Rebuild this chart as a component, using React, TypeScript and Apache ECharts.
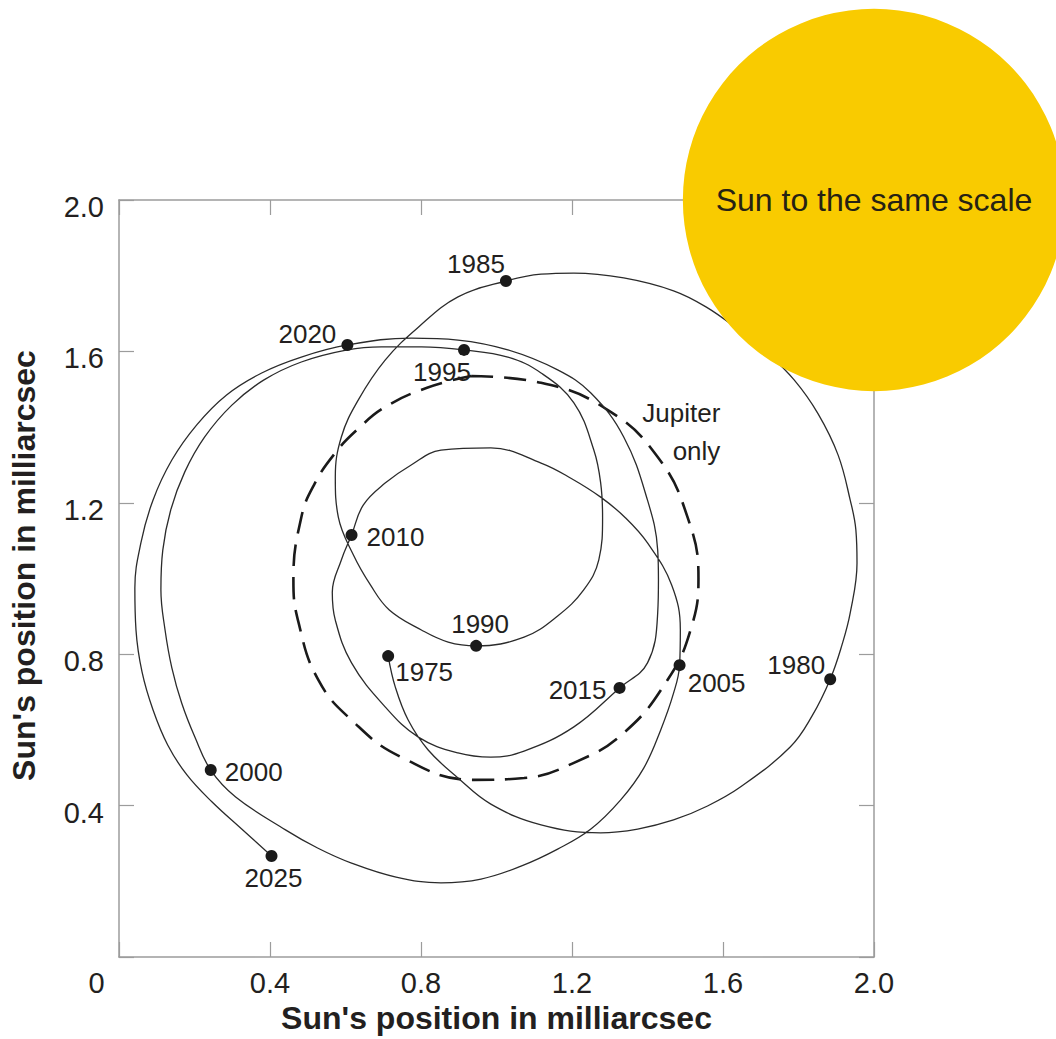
import React, { useEffect, useRef } from 'react';
import * as echarts from 'echarts';

// ---- data (milliarcsec) ----
const years = ['1975', '1980', '1985', '1990', '1995', '2000', '2005', '2010', '2015', '2020', '2025'];
const yearX = [0.713, 1.884, 1.025, 0.946, 0.914, 0.243, 1.485, 0.616, 1.326, 0.605, 0.404];
const yearY = [0.795, 0.734, 1.786, 0.822, 1.604, 0.494, 0.771, 1.115, 0.711, 1.617, 0.267];

// intermediate points of the path between consecutive labelled years
const seg1975_1980 = [[0.732, 0.713], [0.766, 0.626], [0.819, 0.547], [0.898, 0.473], [0.985, 0.404], [1.118, 0.349], [1.276, 0.328], [1.374, 0.338], [1.469, 0.362], [1.559, 0.399], [1.646, 0.449], [1.778, 0.555], [1.836, 0.637]];
const seg1980_1985 = [[1.915, 0.824], [1.937, 0.909], [1.955, 1.041], [1.952, 1.128], [1.937, 1.207], [1.905, 1.326], [1.852, 1.435], [1.789, 1.524], [1.717, 1.596], [1.641, 1.657], [1.556, 1.717], [1.469, 1.760], [1.337, 1.794], [1.205, 1.807], [1.118, 1.804]];
const seg1985_1990 = [[0.898, 1.744], [0.793, 1.664], [0.705, 1.577], [0.634, 1.472], [0.589, 1.374], [0.573, 1.268], [0.581, 1.162], [0.621, 1.062], [0.666, 0.983], [0.716, 0.917], [0.801, 0.864], [0.872, 0.832]];
const seg1990_1995 = [[1.073, 0.845], [1.162, 0.901], [1.231, 0.970], [1.271, 1.049], [1.281, 1.162], [1.276, 1.252], [1.258, 1.339], [1.205, 1.464], [1.118, 1.543], [1.030, 1.585]];
const seg1995_2000 = [[0.801, 1.612], [0.695, 1.612], [0.605, 1.604], [0.483, 1.572], [0.383, 1.524], [0.299, 1.458], [0.227, 1.374], [0.174, 1.281], [0.137, 1.181], [0.116, 1.075], [0.111, 0.970], [0.122, 0.864], [0.140, 0.764], [0.166, 0.671], [0.201, 0.581]];
const seg2000_2005 = [[0.309, 0.423], [0.441, 0.336], [0.526, 0.288], [0.616, 0.248], [0.734, 0.211], [0.853, 0.196], [0.959, 0.206], [1.065, 0.240], [1.162, 0.285], [1.250, 0.338], [1.329, 0.415], [1.390, 0.499], [1.435, 0.600], [1.469, 0.697]];
const seg2005_2010 = [[1.487, 0.864], [1.464, 0.983], [1.400, 1.094], [1.342, 1.160], [1.276, 1.215], [1.197, 1.265], [1.118, 1.305], [0.985, 1.345], [0.853, 1.339], [0.774, 1.300], [0.705, 1.252], [0.647, 1.194]];
const seg2010_2015 = [[0.589, 1.049], [0.565, 0.964], [0.573, 0.890], [0.616, 0.777], [0.705, 0.661], [0.793, 0.581], [0.898, 0.539], [0.985, 0.528], [1.073, 0.544], [1.205, 0.608]];
const seg2015_2020 = [[1.400, 0.777], [1.427, 0.909], [1.429, 0.996], [1.427, 1.075], [1.400, 1.207], [1.337, 1.374], [1.250, 1.490], [1.162, 1.551], [1.030, 1.604], [0.898, 1.630], [0.774, 1.635]];
const seg2020_2025 = [[0.483, 1.585], [0.378, 1.543], [0.285, 1.485], [0.206, 1.406], [0.140, 1.313], [0.090, 1.207], [0.058, 1.094], [0.042, 0.975], [0.045, 0.864], [0.061, 0.753], [0.090, 0.653], [0.129, 0.560], [0.180, 0.481], [0.246, 0.410], [0.325, 0.338]];
const segments = [seg1975_1980, seg1980_1985, seg1985_1990, seg1990_1995, seg1995_2000, seg2000_2005, seg2005_2010, seg2010_2015, seg2015_2020, seg2020_2025];

// Jupiter-only orbit (dashed)
const jupiterOnly = [[0.933, 1.535], [1.118, 1.517], [1.295, 1.445], [1.427, 1.321], [1.506, 1.162], [1.535, 1.001], [1.514, 0.864], [1.453, 0.732], [1.337, 0.592], [1.205, 0.513], [1.073, 0.473], [0.941, 0.468], [0.748, 0.528], [0.616, 0.626], [0.528, 0.732], [0.476, 0.882], [0.462, 0.996], [0.483, 1.162], [0.518, 1.250], [0.573, 1.332], [0.634, 1.396], [0.705, 1.453], [0.816, 1.504], [0.933, 1.535]];
const jupiterLabelAt = [1.593, 1.387];

// Sun drawn to the same scale, centred on the top-right corner
const sunCenter = [2.0, 2.0];
const sunRadius = 0.505;

const axisMin = 0;
const axisMax = 2.0;
const axisStep = 0.4;

// ---- layout / style ----
const W = 1056, H = 1039;
const G_LEFT = 117, G_TOP = 200, G_SIZE = 757;
const FONT = "'Liberation Sans', Arial, sans-serif";
const AXIS_COLOR = '#9c9c9c';
const TEXT = '#231f20';
const labelOffset: Record<string, number[]> = {
  '1975': [36, 16], '1980': [-34, -14], '1985': [-30, -17], '1990': [4, -22],
  '1995': [-22, 22], '2000': [43, 2], '2005': [37, 18], '2010': [44, 2],
  '2015': [-42, 2], '2020': [-40, -11], '2025': [2, 22],
};

export default function App() {
  const ref = useRef<HTMLDivElement>(null);
  useEffect(() => {
    if (!ref.current) return;
    const chart = echarts.init(ref.current, undefined, { renderer: 'svg' });

    const path: number[][] = [];
    years.forEach((_, i) => {
      path.push([yearX[i], yearY[i]]);
      if (i < segments.length) segments[i].forEach((p) => path.push(p));
    });

    const pxPerUnit = G_SIZE / (axisMax - axisMin);

    const axisCommon = {
      type: 'value' as const,
      min: axisMin,
      max: axisMax,
      interval: axisStep,
      axisLine: { show: true, onZero: false, lineStyle: { color: AXIS_COLOR, width: 1.5 } },
      axisTick: { show: true, inside: true, length: 15, lineStyle: { color: AXIS_COLOR, width: 1.2 } },
      splitLine: { show: false },
    };

    chart.setOption({
      animation: false,
      grid: { left: G_LEFT, top: G_TOP, width: G_SIZE, height: G_SIZE },
      xAxis: [
        {
          ...axisCommon,
          position: 'bottom',
          name: "Sun's position in milliarcsec",
          nameLocation: 'middle',
          nameGap: 41,
          nameTextStyle: { fontSize: 32, fontWeight: 'bold', color: TEXT, fontFamily: FONT },
          axisLabel: {
            margin: 11,
            fontSize: 29,
            color: TEXT,
            fontFamily: FONT,
            formatter: (v: number) => (v === 0 ? '{o|0}' : v.toFixed(1)),
            rich: { o: { fontSize: 29, color: TEXT, fontFamily: FONT, padding: [0, 45, 0, 0] } },
          },
        },
        { ...axisCommon, position: 'top', axisLabel: { show: false } },
      ],
      yAxis: [
        {
          ...axisCommon,
          position: 'left',
          name: "Sun's position in milliarcsec",
          nameLocation: 'middle',
          nameGap: 79,
          nameTextStyle: { fontSize: 32, fontWeight: 'bold', color: TEXT, fontFamily: FONT, padding: [0, 0, 0, 26] },
          axisLabel: {
            margin: 15,
            fontSize: 29,
            color: TEXT,
            fontFamily: FONT,
            formatter: (v: number) => (v === 0 ? '' : '{v|' + v.toFixed(1) + '}'),
            rich: { v: { fontSize: 29, color: TEXT, fontFamily: FONT, padding: [14, 0, 0, 0] } },
          },
        },
        { ...axisCommon, position: 'right', axisLabel: { show: false } },
      ],
      series: [
        {
          type: 'line',
          data: jupiterOnly,
          smooth: 0.45,
          symbol: 'none',
          lineStyle: { color: '#1a1a1a', width: 2.6, type: [22, 11] },
          z: 2,
          silent: true,
        },
        {
          type: 'line',
          data: path,
          smooth: 0.4,
          symbol: 'none',
          lineStyle: { color: '#2b2b2b', width: 1.3 },
          z: 3,
          silent: true,
        },
        {
          type: 'scatter',
          data: years.map((y, i) => ({
            value: [yearX[i], yearY[i]],
            name: y,
            label: { offset: labelOffset[y] },
          })),
          symbol: 'circle',
          symbolSize: 12,
          itemStyle: { color: '#1a1a1a', opacity: 1 },
          label: {
            show: true,
            position: 'inside',
            formatter: (p: any) => p.name,
            fontSize: 26,
            color: TEXT,
            fontFamily: FONT,
          },
          z: 4,
          silent: true,
        },
        {
          type: 'scatter',
          data: [{ value: jupiterLabelAt, name: 'Jupiter\nonly' }],
          symbolSize: 0,
          itemStyle: { opacity: 1 },
          label: {
            show: true,
            position: 'inside',
            align: 'right',
            formatter: 'Jupiter\nonly',
            fontSize: 26,
            lineHeight: 38,
            color: TEXT,
            fontFamily: FONT,
          },
          z: 4,
          silent: true,
        },
        {
          type: 'scatter',
          data: [{ value: sunCenter, name: 'Sun' }],
          symbol: 'circle',
          symbolSize: 2 * sunRadius * pxPerUnit,
          clip: false,
          itemStyle: { color: '#F9CB00', opacity: 1 },
          label: {
            show: true,
            position: 'inside',
            formatter: 'Sun to the same scale',
            fontSize: 32,
            color: '#262214',
            fontFamily: FONT,
          },
          z: 10,
          silent: true,
        },
      ],
    });
    return () => chart.dispose();
  }, []);
  return (
    <div
      ref={ref}
      style={{ position: 'fixed', left: 0, top: 0, width: W, height: H, background: '#fff' }}
    />
  );
}
